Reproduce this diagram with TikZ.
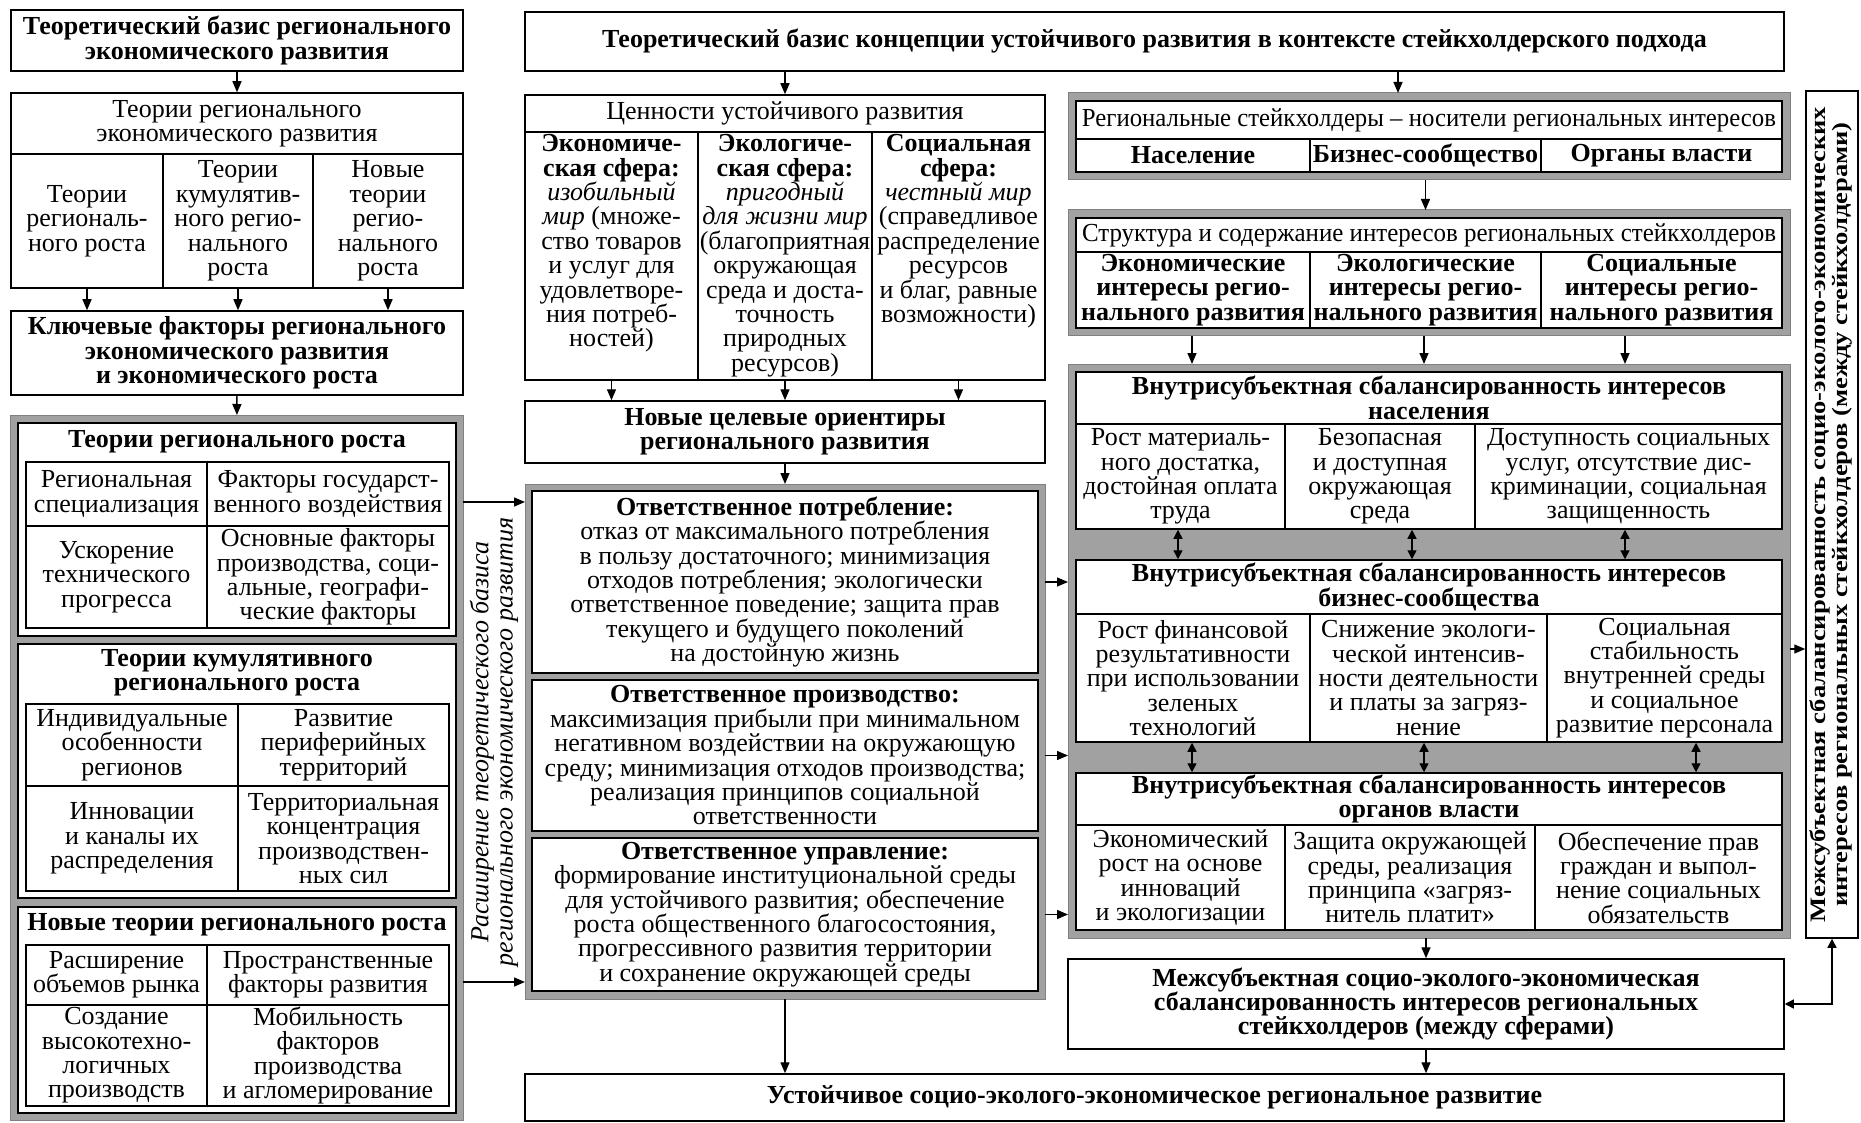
\documentclass[tikz,border=0pt]{standalone}
\usepackage{fontspec}
\usepackage{graphicx}
\setmainfont{Liberation Serif}
\usetikzlibrary{arrows.meta}

\newcommand{\dfont}{\fontsize{26}{24.4}\selectfont}
\tikzset{
  box/.style={draw, line width=1.5pt, fill=white, inner sep=0pt, align=center, font=\dfont},
  bold/.style={font=\dfont\bfseries, align=center, inner sep=0pt},
  txt/.style={font=\dfont, align=center, inner sep=0pt},
  gframe/.style={fill=black!37, draw=black!50, line width=1pt, inner sep=0pt, outer sep=0pt},
  arr/.style={line width=1.4pt, -{Triangle[length=11pt,width=9pt]}},
  darr/.style={line width=1.4pt, {Triangle[length=9pt,width=9pt]}-{Triangle[length=9pt,width=9pt]}},
}
\newcommand{\cellbox}[7][]{%
  \pgfmathsetmacro{\cw}{#5-#3}\pgfmathsetmacro{\ch}{#6-#4}%
  \node[box, minimum width=\cw pt, minimum height=\ch pt, #1] (#2) at ({(#3+#5)/2},{(#4+#6)/2}) {#7};}
\newcommand{\grayframe}[5]{%
  \pgfmathsetmacro{\cw}{#4-#2}\pgfmathsetmacro{\ch}{#5-#3}%
  \node[gframe, minimum width=\cw pt, minimum height=\ch pt] (#1) at ({(#2+#4)/2},{(#3+#5)/2}) {};}
\newcommand{\fitline}[2]{\resizebox{#1}{\height}{#2}}

\begin{document}
\begin{tikzpicture}[x=1pt,y=-1pt]
\useasboundingbox[fill=white] (0,0) rectangle (1861,1123);

\cellbox[bold]{ltop}{11}{10}{463}{71}{Теоретический базис регионального\\экономического развития}
\cellbox{lhead}{11}{93}{463}{154}{Теории регионального\\экономического развития}
\cellbox{lc1}{11}{154}{163}{288}{Теории\\региональ-\\ного роста}
\cellbox{lc2}{163}{154}{313}{288}{Теории\\кумулятив-\\ного регио-\\нального\\роста}
\cellbox{lc3}{313}{154}{463}{288}{Новые\\теории\\регио-\\нального\\роста}
\cellbox[bold]{lkey}{11}{311}{463}{395}{Ключевые факторы регионального\\экономического развития\\и экономического роста}

\grayframe{lframe}{10}{415}{463}{1120}
\cellbox{ga}{18}{423}{456}{636}{}
\node[bold] (gat) at (237,442) {Теории регионального роста};
\cellbox{ga11}{26}{462}{207}{526}{Региональная\\специализация}
\cellbox{ga12}{207}{462}{449}{526}{Факторы государст-\\венного воздействия}
\cellbox{ga21}{26}{526}{207}{628}{Ускорение\\технического\\прогресса}
\cellbox{ga22}{207}{526}{449}{628}{Основные факторы\\производства, соци-\\альные, географи-\\ческие факторы}
\cellbox{gb}{18}{644}{456}{898}{}
\node[bold] (gbt) at (237,673) {Теории кумулятивного\\регионального роста};
\cellbox{gb11}{26}{704}{238}{786}{Индивидуальные\\особенности\\регионов}
\cellbox{gb12}{238}{704}{449}{786}{Развитие\\периферийных\\территорий}
\cellbox{gb21}{26}{786}{238}{891}{Инновации\\и каналы их\\распределения}
\cellbox{gb22}{238}{786}{449}{891}{Территориальная\\концентрация\\производствен-\\ных сил}
\cellbox{gc}{18}{907}{456}{1113}{}
\node[bold] (gct) at (237,925) {Новые теории регионального роста};
\cellbox{gc11}{26}{945}{207}{1005}{Расширение\\объемов рынка}
\cellbox{gc12}{207}{945}{449}{1005}{Пространственные\\факторы развития}
\cellbox{gc21}{26}{1005}{207}{1106}{Создание\\высокотехно-\\логичных\\производств}
\cellbox{gc22}{207}{1005}{449}{1106}{Мобильность\\факторов\\производства\\и агломерирование}

\node[txt, font=\dfont\itshape, rotate=90] (ext) at (494,742) {Расширение теоретического базиса\\регионального экономического развития};

\cellbox[bold]{mtop}{525}{12}{1784}{71}{Теоретический базис концепции устойчивого развития в контексте стейкхолдерского подхода}
\cellbox{vhead}{525}{95}{1045}{132}{Ценности устойчивого развития}
\cellbox{v1}{525}{132}{698}{380}{}
\cellbox{v2}{698}{132}{872}{380}{}
\cellbox{v3}{872}{132}{1045}{380}{}
\node[txt, anchor=north] (v1t) at ([yshift=-3pt]v1.north) {\textbf{Экономиче-}\\\textbf{ская сфера:}\\\textit{изобильный}\\\textit{мир} (множе-\\ство товаров\\и услуг для\\удовлетворе-\\ния потреб-\\ностей)};
\node[txt, anchor=north] (v2t) at ([yshift=-3pt]v2.north) {\textbf{Экологиче-}\\\textbf{ская сфера:}\\\textit{пригодный}\\\textit{для жизни мир}\\(благоприятная\\окружающая\\среда и доста-\\точность\\природных\\ресурсов)};
\node[txt, anchor=north] (v3t) at ([yshift=-3pt]v3.north) {\textbf{Социальная}\\\textbf{сфера:}\\\textit{честный мир}\\(справедливое\\распределение\\ресурсов\\и благ, равные\\возможности)};
\cellbox[bold]{mgoal}{525}{401}{1045}{463}{Новые целевые ориентиры\\регионального развития}

\grayframe{mframe}{525}{484}{1045}{999}
\cellbox{p1}{532}{491}{1038}{673}{\textbf{Ответственное потребление:}\\отказ от максимального потребления\\в пользу достаточного; минимизация\\отходов потребления; экологически\\ответственное поведение; защита прав\\текущего и будущего поколений\\на достойную жизнь}
\cellbox{p2}{532}{680}{1038}{831}{\textbf{Ответственное производство:}\\максимизация прибыли при минимальном\\негативном воздействии на окружающую\\среду; минимизация отходов производства;\\реализация принципов социальной\\ответственности}
\cellbox{p3}{532}{838}{1038}{991}{\textbf{Ответственное управление:}\\формирование институциональной среды\\для устойчивого развития; обеспечение\\роста общественного благосостояния,\\прогрессивного развития территории\\и сохранение окружающей среды}
\cellbox[bold]{mbot}{525}{1074}{1784}{1121}{Устойчивое социо-эколого-экономическое региональное развитие}

\grayframe{rfa}{1068}{93}{1790}{180}
\cellbox{rah}{1076}{101}{1782}{139}{\fitline{694pt}{Региональные стейкхолдеры – носители региональных интересов}}
\cellbox[bold]{ra1}{1076}{139}{1310}{172}{Население}
\cellbox[bold]{ra2}{1310}{139}{1541}{172}{Бизнес-сообщество}
\cellbox[bold]{ra3}{1541}{139}{1782}{172}{Органы власти}
\grayframe{rfb}{1068}{210}{1790}{336}
\cellbox{rbh}{1076}{218}{1782}{252}{\fitline{694pt}{Структура и содержание интересов региональных стейкхолдеров}}
\cellbox[bold]{rb1}{1076}{252}{1310}{328}{Экономические\\интересы регио-\\нального развития}
\cellbox[bold]{rb2}{1310}{252}{1541}{328}{Экологические\\интересы регио-\\нального развития}
\cellbox[bold]{rb3}{1541}{252}{1782}{328}{Социальные\\интересы регио-\\нального развития}

\grayframe{rfc}{1068}{364}{1790}{938}
\cellbox[bold]{sah}{1076}{372}{1782}{424}{Внутрисубъектная сбалансированность интересов\\населения}
\cellbox{sa1}{1076}{424}{1285}{529}{Рост материаль-\\ного достатка,\\достойная оплата\\труда}
\cellbox{sa2}{1285}{424}{1475}{529}{Безопасная\\и доступная\\окружающая\\среда}
\cellbox{sa3}{1475}{424}{1782}{529}{Доступность социальных\\услуг, отсутствие дис-\\криминации, социальная\\защищенность}
\cellbox[bold]{sbh}{1076}{560}{1782}{614}{Внутрисубъектная сбалансированность интересов\\бизнес-сообщества}
\cellbox{sb1}{1076}{614}{1310}{742}{Рост финансовой\\результативности\\при использовании\\зеленых\\технологий}
\cellbox{sb2}{1310}{614}{1547}{742}{Снижение экологи-\\ческой интенсив-\\ности деятельности\\и платы за загряз-\\нение}
\cellbox{sb3}{1547}{614}{1782}{742}{Социальная\\стабильность\\внутренней среды\\и социальное\\развитие персонала}
\cellbox[bold]{sch}{1076}{773}{1782}{825}{Внутрисубъектная сбалансированность интересов\\органов власти}
\cellbox{sc1}{1076}{825}{1285}{930}{Экономический\\рост на основе\\инноваций\\и экологизации}
\cellbox{sc2}{1285}{825}{1535}{930}{Защита окружающей\\среды, реализация\\принципа «загряз-\\нитель платит»}
\cellbox{sc3}{1535}{825}{1782}{930}{Обеспечение прав\\граждан и выпол-\\нение социальных\\обязательств}
\cellbox[bold]{mezh}{1068}{959}{1784}{1049}{Межсубъектная социо-эколого-экономическая\\сбалансированность интересов региональных\\стейкхолдеров (между сферами)}

\cellbox{vbox}{1806}{91}{1858}{938}{}
\node[bold, rotate=90, font=\fontsize{22}{22}\selectfont\bfseries] (vboxt) at (vbox.center) {\fitline{815pt}{\begin{tabular}{@{}c@{}}Межсубъектная сбалансированность социо-эколого-экономических\\интересов региональных стейкхолдеров (между стейкхолдерами)\end{tabular}}};

\draw[arr] (ltop) -- (lhead);
\foreach \c in {lc1,lc2,lc3} \draw[arr] (\c.south) -- (\c.south |- lkey.north);
\draw[arr] (lkey) -- (lframe);
\coordinate (ea) at (463,502);
\coordinate (eb) at (463,982);
\draw[arr] (ea) -- (ea -| mframe.west);
\draw[arr] (eb) -- (eb -| mframe.west);
\draw[arr] (vhead.north |- mtop.south) -- (vhead.north);
\coordinate (ra) at (1398,71);
\draw[arr] (ra) -- (ra |- rfa.north);
\foreach \c in {v1,v2,v3} \draw[arr] (\c.south) -- (\c.south |- mgoal.north);
\draw[arr] (mgoal) -- (mframe);
\draw[arr] (mframe.south) -- (mframe.south |- mbot.north);
\foreach \c in {p1,p2,p3} \draw[arr] (\c.east -| mframe.east) -- (\c.east -| rfc.west);
\draw[arr] (ra2.south |- rfa.south) -- (ra2.south |- rfb.north);
\foreach \x in {1192,1424,1625} \draw[arr] (rfb.south -| \x,0) -- (rfc.north -| \x,0);
\foreach \x in {1178,1412,1625} \draw[darr] (sa1.south -| \x,0) -- (sbh.north -| \x,0);
\foreach \x in {1192,1424,1696} \draw[darr] (sb1.south -| \x,0) -- (sch.north -| \x,0);
\coordinate (rv) at (1790,649);
\draw[arr] (rv) -- (rv -| vbox.west);
\draw[arr] (rfc.south -| mezh.north) -- (mezh.north);
\draw[arr] (mezh.south) -- (mezh.south |- mbot.north);
\draw[darr] (mezh.east) -| (vbox.south);
\end{tikzpicture}
\end{document}
